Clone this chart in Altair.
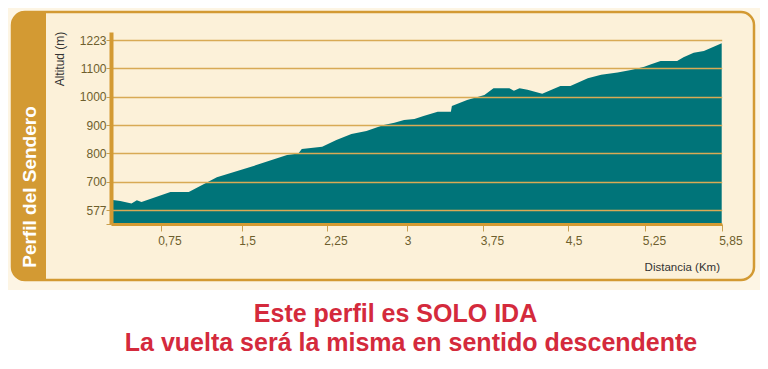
import altair as alt
import pandas as pd

km = [0.03, 0.14, 0.31, 0.39, 0.46, 0.84, 1.01, 1.27, 1.54, 1.90,
      2.00, 2.03, 2.21, 2.34, 2.48, 2.62, 2.78, 2.88, 2.97, 3.07,
      3.16, 3.30, 3.43, 3.44, 3.59, 3.76, 3.84, 3.98, 4.02, 4.07,
      4.14, 4.27, 4.43, 4.52, 4.69, 4.82, 4.98, 5.11, 5.24, 5.29,
      5.37, 5.50, 5.55, 5.63, 5.71, 5.85]
altitude = [620, 616, 605, 619, 612, 655, 655, 716, 747, 794,
            799, 815, 823, 847, 868, 879, 900, 908, 918, 921,
            932, 947, 947, 967, 988, 1006, 1030, 1030, 1021, 1030,
            1024, 1010, 1038, 1038, 1065, 1077, 1085, 1094, 1107, 1117,
            1132, 1132, 1148, 1168, 1175, 1209]
x_ticks = [0.75, 1.5, 2.25, 3, 3.75, 4.5, 5.25, 5.85]
y_ticks = [577, 700, 800, 900, 1000, 1100, 1223]

side_title = "Perfil del Sendero"
y_title = "Altitud (m)"
x_title = "Distancia (Km)"
note_1 = "Este perfil es SOLO IDA"
note_2 = "La vuelta será la misma en sentido descendente"

df = pd.DataFrame({"km": km, "alt": altitude})
one = pd.DataFrame({"k": [0]})

FONT = "Liberation Sans"
GOLD = "#D39A33"
GRID = "#D8AA55"
TEAL = "#007479"
CREAM = "#FCF1D9"
LABEL = "#6E5F2D"
RED = "#D42A3C"

W, H = 611, 192

# piecewise scales reproducing the uneven tick spacing of the original graphic
x_domain = [0] + x_ticks
x_range = [0, 49.7, 130.7, 215.7, 296.3, 372.3, 457.3, 534.3, 610.7]
step = 170 / 6
y_base = 516
y_domain = [y_base] + y_ticks + [1258]
y_range = [H, H - 14] + [H - 14 - step * i for i in range(1, 7)] + [0]


def rect(x, x2, y, y2, **kw):
    return alt.Chart(one).mark_rect(**kw).encode(
        x=alt.value(x), x2=alt.value(x2), y=alt.value(y), y2=alt.value(y2))


def text(t, x, y, **kw):
    return alt.Chart(one).mark_text(font=FONT, **kw).encode(
        x=alt.value(x), y=alt.value(y), text=alt.value(t))


outer = rect(-103, 649, -24, 258, color="#FDF5E4")
box = rect(-99, 643, -20, 248, fill=CREAM, stroke=GOLD, strokeWidth=2.5,
           cornerRadius=13)
band = rect(-99, -65, -21, 249, color=GOLD, cornerRadiusTopLeft=13,
            cornerRadiusBottomLeft=13)
band_text = text(side_title, -81, 155, angle=270, fontSize=19,
                 fontWeight="bold", color="white", align="center",
                 baseline="middle")
ytitle = text(y_title, -51, 27, angle=270, fontSize=12, color="#333333",
              align="center", baseline="middle")
xtitle = text(x_title, 609, 236, fontSize=11.5, color="#333333",
              align="right", baseline="middle")
n1 = text(note_1, 284.5, 282, fontSize=25, fontWeight="bold", color=RED,
          align="center", baseline="middle")
n2 = text(note_2, 300, 311, fontSize=25, fontWeight="bold", color=RED,
          align="center", baseline="middle")

area = alt.Chart(df).mark_area(color=TEAL).encode(
    x=alt.X("km:Q",
            scale=alt.Scale(domain=x_domain, range=x_range, nice=False, zero=False),
            axis=alt.Axis(values=x_ticks,
                          labelExpr="replace(toString(datum.value), '.', ',')",
                          title=None, grid=False, domainColor=GOLD,
                          domainWidth=3, tickColor="#C9A050", tickSize=7,
                          tickWidth=1, labelPadding=4, labelFont=FONT,
                          labelFontSize=12, labelColor=LABEL,
                          labelAlign="left", labelOffset=-3,
                          labelFlush=False, labelOverlap=False, zindex=1)),
    y=alt.Y("alt:Q",
            scale=alt.Scale(domain=y_domain, range=y_range, nice=False, zero=False),
            axis=alt.Axis(values=[y_base] + y_ticks,
                          labelExpr="datum.value < 550 ? '' : toString(datum.value)",
                          title=None, grid=True, gridColor=GRID,
                          gridWidth=1.3, domainColor=GOLD, domainWidth=4,
                          tickColor="#C9A050", tickSize=5, tickWidth=1,
                          labelPadding=0, labelFont=FONT, labelFontSize=12,
                          labelColor=LABEL, labelOverlap=False, zindex=1)),
    y2=alt.datum(y_base),
)

chart = alt.layer(outer, box, band, band_text, ytitle, xtitle, area, n1, n2).properties(
    width=W, height=H,
    autosize=alt.AutoSizeParams(type="none"),
    padding={"left": 103, "top": 24, "right": 38, "bottom": 137},
).configure_view(stroke=None).configure(background="white")

chart.save("out.html", embed_options={"renderer": "svg", "actions": False})
